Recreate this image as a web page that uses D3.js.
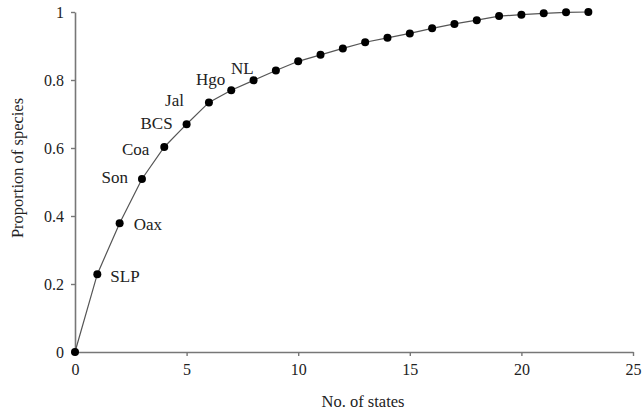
<!DOCTYPE html>
<html><head><meta charset="utf-8">
<script src="https://cdn.jsdelivr.net/npm/d3@7"></script>
<style>body{margin:0;background:#fff;} text{font-family:"Liberation Serif","Times New Roman",serif;fill:#222;}</style>
</head><body><svg id="c" width="643" height="411"></svg>
<script>
const states = [0,1,2,3,4,5,6,7,8,9,10,11,12,13,14,15,16,17,18,19,20,21,22,23];
const proportion = [0,0.229,0.379,0.509,0.603,0.670,0.734,0.770,0.799,0.828,0.855,0.874,0.893,0.911,0.924,0.937,0.952,0.965,0.976,0.988,0.992,0.996,0.999,1.0];
const stateLabels = ["","SLP","Oax","Son","Coa","BCS","Jal","Hgo","NL"];
const xTicks = [0,5,10,15,20,25];
const yTicks = [0,0.2,0.4,0.6,0.8,1];
const yTickLabels = ["0","0.2","0.4","0.6","0.8","1"];

// label layout offsets (index matches stateLabels)
const labelLayout = [null,{dx:13,dy:8,a:"start"},{dx:14,dy:7,a:"start"},{dx:-14,dy:4,a:"end"},{dx:-15,dy:8,a:"end"},{dx:-14,dy:5,a:"end"},{dx:-25,dy:4,a:"end"},{dx:-6,dy:-5,a:"end"},{dx:0,dy:-6,a:"end"}];

const svg = d3.select("#c");
const x = d3.scaleLinear().domain([0,25]).range([75,633]);
const y = d3.scaleLinear().domain([0,1]).range([352,12]);

const axColor = "#777";
const FONT = "Liberation Serif, Times New Roman, serif";
const xa = svg.append("g").attr("transform","translate(0,352)")
  .call(d3.axisBottom(x).tickValues(xTicks).tickSize(4).tickSizeOuter(0).tickPadding(8));
const ya = svg.append("g").attr("transform","translate(75,0)")
  .call(d3.axisLeft(y).tickValues(yTicks).tickFormat((d,i)=>yTickLabels[i]).tickSize(4).tickSizeOuter(0).tickPadding(7));
[xa,ya].forEach(g=>{
  g.attr("font-family",FONT).attr("font-size",16);
  g.select(".domain").attr("stroke",axColor).attr("stroke-width",1.6);
  g.selectAll(".tick line").attr("stroke",axColor).attr("stroke-width",1.4);
  g.selectAll(".tick text").attr("font-family",FONT).attr("font-size",16).attr("fill","#222");
});

const data = states.map((s,i)=>({s, p:proportion[i]}));
svg.append("path").datum(data)
  .attr("fill","none").attr("stroke","#555").attr("stroke-width",1.2)
  .attr("d", d3.line().x(d=>x(d.s)).y(d=>y(d.p)));
svg.selectAll("circle.pt").data(data).join("circle")
  .attr("class","pt").attr("cx",d=>x(d.s)).attr("cy",d=>y(d.p)).attr("r",4).attr("fill","#000");

stateLabels.forEach((lab,i)=>{
  if(!lab) return;
  const L = labelLayout[i];
  svg.append("text").attr("x",x(states[i])+L.dx).attr("y",y(proportion[i])+L.dy)
    .attr("text-anchor",L.a).attr("font-family",FONT).attr("font-size",17).text(lab);
});

svg.append("text").attr("x",363).attr("y",407).attr("text-anchor","middle").attr("font-family",FONT).attr("font-size",16.5).text("No. of states");
svg.append("text").attr("transform","translate(23,168) rotate(-90)").attr("text-anchor","middle").attr("font-family",FONT).attr("font-size",16.5).text("Proportion of species");
</script></body></html>
